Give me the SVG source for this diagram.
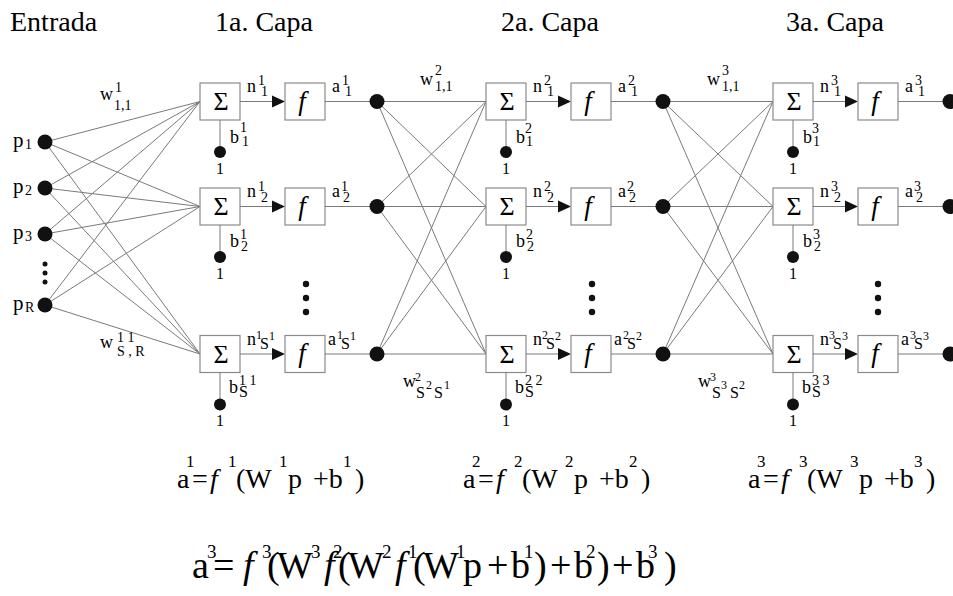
<svg xmlns="http://www.w3.org/2000/svg" width="953" height="596" viewBox="0 0 953 596">
<g id="headers">
<text x="10" y="31" font-family="Liberation Serif" font-size="28">Entrada</text>
<text x="215" y="31" font-family="Liberation Serif" font-size="28">1a. Capa</text>
<text x="501" y="31" font-family="Liberation Serif" font-size="28">2a. Capa</text>
<text x="786" y="31" font-family="Liberation Serif" font-size="28">3a. Capa</text>
</g>

<g id="connectors">
<line x1="45" y1="142" x2="200" y2="101.5" stroke="#7a7a7a" stroke-width="1"/>
<line x1="45" y1="142" x2="200" y2="206.5" stroke="#7a7a7a" stroke-width="1"/>
<line x1="45" y1="142" x2="200" y2="354" stroke="#7a7a7a" stroke-width="1"/>
<line x1="45" y1="188" x2="200" y2="101.5" stroke="#7a7a7a" stroke-width="1"/>
<line x1="45" y1="188" x2="200" y2="206.5" stroke="#7a7a7a" stroke-width="1"/>
<line x1="45" y1="188" x2="200" y2="354" stroke="#7a7a7a" stroke-width="1"/>
<line x1="45" y1="234" x2="200" y2="101.5" stroke="#7a7a7a" stroke-width="1"/>
<line x1="45" y1="234" x2="200" y2="206.5" stroke="#7a7a7a" stroke-width="1"/>
<line x1="45" y1="234" x2="200" y2="354" stroke="#7a7a7a" stroke-width="1"/>
<line x1="45" y1="305" x2="200" y2="101.5" stroke="#7a7a7a" stroke-width="1"/>
<line x1="45" y1="305" x2="200" y2="206.5" stroke="#7a7a7a" stroke-width="1"/>
<line x1="45" y1="305" x2="200" y2="354" stroke="#7a7a7a" stroke-width="1"/>
<line x1="377" y1="101.5" x2="486" y2="101.5" stroke="#7a7a7a" stroke-width="1"/>
<line x1="377" y1="101.5" x2="486" y2="206.5" stroke="#7a7a7a" stroke-width="1"/>
<line x1="377" y1="101.5" x2="486" y2="354" stroke="#7a7a7a" stroke-width="1"/>
<line x1="377" y1="206.5" x2="486" y2="101.5" stroke="#7a7a7a" stroke-width="1"/>
<line x1="377" y1="206.5" x2="486" y2="206.5" stroke="#7a7a7a" stroke-width="1"/>
<line x1="377" y1="206.5" x2="486" y2="354" stroke="#7a7a7a" stroke-width="1"/>
<line x1="377" y1="354" x2="486" y2="101.5" stroke="#7a7a7a" stroke-width="1"/>
<line x1="377" y1="354" x2="486" y2="206.5" stroke="#7a7a7a" stroke-width="1"/>
<line x1="377" y1="354" x2="486" y2="354" stroke="#7a7a7a" stroke-width="1"/>
<line x1="663" y1="101.5" x2="773" y2="101.5" stroke="#7a7a7a" stroke-width="1"/>
<line x1="663" y1="101.5" x2="773" y2="206.5" stroke="#7a7a7a" stroke-width="1"/>
<line x1="663" y1="101.5" x2="773" y2="354" stroke="#7a7a7a" stroke-width="1"/>
<line x1="663" y1="206.5" x2="773" y2="101.5" stroke="#7a7a7a" stroke-width="1"/>
<line x1="663" y1="206.5" x2="773" y2="206.5" stroke="#7a7a7a" stroke-width="1"/>
<line x1="663" y1="206.5" x2="773" y2="354" stroke="#7a7a7a" stroke-width="1"/>
<line x1="663" y1="354" x2="773" y2="101.5" stroke="#7a7a7a" stroke-width="1"/>
<line x1="663" y1="354" x2="773" y2="206.5" stroke="#7a7a7a" stroke-width="1"/>
<line x1="663" y1="354" x2="773" y2="354" stroke="#7a7a7a" stroke-width="1"/>
</g>

<g id="inputs">
<g id="p1"><circle cx="45" cy="142" r="7.5" fill="#111"/><text x="13" y="147" font-family="Liberation Serif" font-size="21">p</text><text x="25" y="149" font-family="Liberation Serif" font-size="14">1</text></g>
<g id="p2"><circle cx="45" cy="188" r="7.5" fill="#111"/><text x="13" y="193" font-family="Liberation Serif" font-size="21">p</text><text x="25" y="195" font-family="Liberation Serif" font-size="14">2</text></g>
<g id="p3"><circle cx="45" cy="234" r="7.5" fill="#111"/><text x="13" y="239" font-family="Liberation Serif" font-size="21">p</text><text x="25" y="241" font-family="Liberation Serif" font-size="14">3</text></g>
<g id="pdots"><circle cx="45" cy="264" r="2.5" fill="#111"/><circle cx="45" cy="273" r="2.5" fill="#111"/><circle cx="45" cy="282" r="2.5" fill="#111"/></g>
<g id="pR"><circle cx="45" cy="305" r="7.5" fill="#111"/><text x="13" y="310" font-family="Liberation Serif" font-size="21">p</text><text x="25" y="312" font-family="Liberation Serif" font-size="14">R</text></g>
</g>

<g id="weight-labels">
<text x="100" y="100" font-family="Liberation Serif" font-size="18">w</text><text x="115" y="92" font-family="Liberation Serif" font-size="14">1</text><text x="114" y="110" font-family="Liberation Serif" font-size="14">1,1</text>
<text x="100" y="348" font-family="Liberation Serif" font-size="18">w</text><text x="117" y="342" font-family="Liberation Serif" font-size="14">1 1</text><text x="117" y="356" font-family="Liberation Serif" font-size="14">S , R</text>
<text x="420" y="85" font-family="Liberation Serif" font-size="18">w</text><text x="435" y="75" font-family="Liberation Serif" font-size="14">2</text><text x="435" y="91" font-family="Liberation Serif" font-size="14">1,1</text>
<text x="403" y="387" font-family="Liberation Serif" font-size="18">w</text><text x="415" y="381" font-family="Liberation Serif" font-size="12">2</text><text x="416" y="398" font-family="Liberation Serif" font-size="16">S</text><text x="426" y="389" font-family="Liberation Serif" font-size="12">2</text><text x="434" y="398" font-family="Liberation Serif" font-size="16">S</text><text x="444" y="389" font-family="Liberation Serif" font-size="12">1</text>
<text x="707" y="85" font-family="Liberation Serif" font-size="18">w</text><text x="722" y="75" font-family="Liberation Serif" font-size="14">3</text><text x="722" y="91" font-family="Liberation Serif" font-size="14">1,1</text>
<text x="698" y="387" font-family="Liberation Serif" font-size="18">w</text><text x="710" y="381" font-family="Liberation Serif" font-size="12">3</text><text x="712" y="398" font-family="Liberation Serif" font-size="16">S</text><text x="721" y="389" font-family="Liberation Serif" font-size="12">3</text><text x="730" y="398" font-family="Liberation Serif" font-size="16">S</text><text x="739" y="389" font-family="Liberation Serif" font-size="12">2</text>
</g>

<!-- Layer 1 -->
<g id="L1N1">
<rect x="200" y="83" width="40" height="37" fill="#fff" stroke="#8a8a8a" stroke-width="1.2"/>
<line x1="240" y1="101.5" x2="273" y2="101.5" stroke="#7a7a7a" stroke-width="1"/>
<polygon points="285,101.5 272,95.5 272,107.5" fill="#111"/>
<rect x="285" y="83" width="40" height="37" fill="#fff" stroke="#8a8a8a" stroke-width="1.2"/>
<line x1="325" y1="101.5" x2="372" y2="101.5" stroke="#7a7a7a" stroke-width="1"/>
<circle cx="377" cy="101.5" r="7.5" fill="#111"/>
<line x1="220" y1="120" x2="220" y2="151.5" stroke="#7a7a7a" stroke-width="1"/>
<circle cx="220" cy="152" r="6" fill="#111"/>
<text x="221" y="110" font-family="Liberation Serif" font-size="26" text-anchor="middle">Σ</text>
<text x="302" y="109.5" font-family="Liberation Serif" font-size="27" font-style="italic" text-anchor="middle">f</text>
<text x="220" y="173.5" font-family="Liberation Serif" font-size="16" text-anchor="middle">1</text>
<text x="247" y="91.5" font-family="Liberation Serif" font-size="18">n</text><text x="258" y="84.5" font-family="Liberation Serif" font-size="14">1</text><text x="261" y="95.5" font-family="Liberation Serif" font-size="14">1</text>
<text x="332" y="91.5" font-family="Liberation Serif" font-size="18">a</text><text x="342" y="84.5" font-family="Liberation Serif" font-size="14">1</text><text x="345" y="95.5" font-family="Liberation Serif" font-size="14">1</text>
<text x="230" y="142.5" font-family="Liberation Serif" font-size="18">b</text><text x="240" y="131.5" font-family="Liberation Serif" font-size="14">1</text><text x="242" y="145.5" font-family="Liberation Serif" font-size="14">1</text>
</g>
<g id="L1N2">
<rect x="200" y="188" width="40" height="37" fill="#fff" stroke="#8a8a8a" stroke-width="1.2"/>
<line x1="240" y1="206.5" x2="273" y2="206.5" stroke="#7a7a7a" stroke-width="1"/>
<polygon points="285,206.5 272,200.5 272,212.5" fill="#111"/>
<rect x="285" y="188" width="40" height="37" fill="#fff" stroke="#8a8a8a" stroke-width="1.2"/>
<line x1="325" y1="206.5" x2="372" y2="206.5" stroke="#7a7a7a" stroke-width="1"/>
<circle cx="377" cy="206.5" r="7.5" fill="#111"/>
<line x1="220" y1="225" x2="220" y2="256.5" stroke="#7a7a7a" stroke-width="1"/>
<circle cx="220" cy="257" r="6" fill="#111"/>
<text x="221" y="215" font-family="Liberation Serif" font-size="26" text-anchor="middle">Σ</text>
<text x="302" y="214.5" font-family="Liberation Serif" font-size="27" font-style="italic" text-anchor="middle">f</text>
<text x="220" y="278.5" font-family="Liberation Serif" font-size="16" text-anchor="middle">1</text>
<text x="247" y="196.5" font-family="Liberation Serif" font-size="18">n</text><text x="258" y="190.5" font-family="Liberation Serif" font-size="14">1</text><text x="261" y="201.5" font-family="Liberation Serif" font-size="14">2</text>
<text x="332" y="196.5" font-family="Liberation Serif" font-size="18">a</text><text x="341" y="190.5" font-family="Liberation Serif" font-size="14">1</text><text x="343" y="201.5" font-family="Liberation Serif" font-size="14">2</text>
<text x="230" y="246.5" font-family="Liberation Serif" font-size="18">b</text><text x="240" y="238.5" font-family="Liberation Serif" font-size="14">1</text><text x="241" y="250.5" font-family="Liberation Serif" font-size="14">2</text>
</g>
<g id="L1dots"><circle cx="306" cy="284" r="3.2" fill="#111"/><circle cx="306" cy="298" r="3.2" fill="#111"/><circle cx="306" cy="312" r="3.2" fill="#111"/></g>
<g id="L1N3">
<rect x="200" y="335.5" width="40" height="37" fill="#fff" stroke="#8a8a8a" stroke-width="1.2"/>
<line x1="240" y1="354" x2="273" y2="354" stroke="#7a7a7a" stroke-width="1"/>
<polygon points="285,354 272,348 272,360" fill="#111"/>
<rect x="285" y="335.5" width="40" height="37" fill="#fff" stroke="#8a8a8a" stroke-width="1.2"/>
<line x1="325" y1="354" x2="372" y2="354" stroke="#7a7a7a" stroke-width="1"/>
<circle cx="377" cy="354" r="7.5" fill="#111"/>
<line x1="220" y1="372.5" x2="220" y2="404" stroke="#7a7a7a" stroke-width="1"/>
<circle cx="220" cy="404.5" r="6" fill="#111"/>
<text x="221" y="362.5" font-family="Liberation Serif" font-size="26" text-anchor="middle">Σ</text>
<text x="302" y="362" font-family="Liberation Serif" font-size="27" font-style="italic" text-anchor="middle">f</text>
<text x="220" y="426" font-family="Liberation Serif" font-size="16" text-anchor="middle">1</text>
<text x="247" y="345" font-family="Liberation Serif" font-size="18">n</text><text x="256" y="339" font-family="Liberation Serif" font-size="12">1</text><text x="260" y="349" font-family="Liberation Serif" font-size="16">S</text><text x="269" y="340" font-family="Liberation Serif" font-size="12">1</text>
<text x="328" y="345" font-family="Liberation Serif" font-size="18">a</text><text x="337" y="339" font-family="Liberation Serif" font-size="12">1</text><text x="341" y="349" font-family="Liberation Serif" font-size="16">S</text><text x="350" y="340" font-family="Liberation Serif" font-size="12">1</text>
<text x="229" y="393" font-family="Liberation Serif" font-size="18">b</text><text x="239" y="385" font-family="Liberation Serif" font-size="14">1 1</text><text x="239" y="397" font-family="Liberation Serif" font-size="16">S</text>
</g>

<!-- Layer 2 -->
<g id="L2N1">
<rect x="486" y="83" width="40" height="37" fill="#fff" stroke="#8a8a8a" stroke-width="1.2"/>
<line x1="526" y1="101.5" x2="559" y2="101.5" stroke="#7a7a7a" stroke-width="1"/>
<polygon points="571,101.5 558,95.5 558,107.5" fill="#111"/>
<rect x="571" y="83" width="40" height="37" fill="#fff" stroke="#8a8a8a" stroke-width="1.2"/>
<line x1="611" y1="101.5" x2="658" y2="101.5" stroke="#7a7a7a" stroke-width="1"/>
<circle cx="663" cy="101.5" r="7.5" fill="#111"/>
<line x1="506" y1="120" x2="506" y2="151.5" stroke="#7a7a7a" stroke-width="1"/>
<circle cx="506" cy="152" r="6" fill="#111"/>
<text x="507" y="110" font-family="Liberation Serif" font-size="26" text-anchor="middle">Σ</text>
<text x="588" y="109.5" font-family="Liberation Serif" font-size="27" font-style="italic" text-anchor="middle">f</text>
<text x="506" y="173.5" font-family="Liberation Serif" font-size="16" text-anchor="middle">1</text>
<text x="533" y="91.5" font-family="Liberation Serif" font-size="18">n</text><text x="544" y="84.5" font-family="Liberation Serif" font-size="14">2</text><text x="547" y="95.5" font-family="Liberation Serif" font-size="14">1</text>
<text x="618" y="91.5" font-family="Liberation Serif" font-size="18">a</text><text x="628" y="84.5" font-family="Liberation Serif" font-size="14">2</text><text x="631" y="95.5" font-family="Liberation Serif" font-size="14">1</text>
<text x="516" y="142.5" font-family="Liberation Serif" font-size="18">b</text><text x="525" y="132.5" font-family="Liberation Serif" font-size="14">2</text><text x="526" y="145.5" font-family="Liberation Serif" font-size="14">1</text>
</g>
<g id="L2N2">
<rect x="486" y="188" width="40" height="37" fill="#fff" stroke="#8a8a8a" stroke-width="1.2"/>
<line x1="526" y1="206.5" x2="559" y2="206.5" stroke="#7a7a7a" stroke-width="1"/>
<polygon points="571,206.5 558,200.5 558,212.5" fill="#111"/>
<rect x="571" y="188" width="40" height="37" fill="#fff" stroke="#8a8a8a" stroke-width="1.2"/>
<line x1="611" y1="206.5" x2="658" y2="206.5" stroke="#7a7a7a" stroke-width="1"/>
<circle cx="663" cy="206.5" r="7.5" fill="#111"/>
<line x1="506" y1="225" x2="506" y2="256.5" stroke="#7a7a7a" stroke-width="1"/>
<circle cx="506" cy="257" r="6" fill="#111"/>
<text x="507" y="215" font-family="Liberation Serif" font-size="26" text-anchor="middle">Σ</text>
<text x="588" y="214.5" font-family="Liberation Serif" font-size="27" font-style="italic" text-anchor="middle">f</text>
<text x="506" y="278.5" font-family="Liberation Serif" font-size="16" text-anchor="middle">1</text>
<text x="533" y="196.5" font-family="Liberation Serif" font-size="18">n</text><text x="544" y="190.5" font-family="Liberation Serif" font-size="14">2</text><text x="547" y="201.5" font-family="Liberation Serif" font-size="14">2</text>
<text x="618" y="196.5" font-family="Liberation Serif" font-size="18">a</text><text x="627" y="190.5" font-family="Liberation Serif" font-size="14">2</text><text x="629" y="201.5" font-family="Liberation Serif" font-size="14">2</text>
<text x="516" y="246.5" font-family="Liberation Serif" font-size="18">b</text><text x="526" y="238.5" font-family="Liberation Serif" font-size="14">2</text><text x="527" y="250.5" font-family="Liberation Serif" font-size="14">2</text>
</g>
<g id="L2dots"><circle cx="592" cy="284" r="3.2" fill="#111"/><circle cx="592" cy="298" r="3.2" fill="#111"/><circle cx="592" cy="312" r="3.2" fill="#111"/></g>
<g id="L2N3">
<rect x="486" y="335.5" width="40" height="37" fill="#fff" stroke="#8a8a8a" stroke-width="1.2"/>
<line x1="526" y1="354" x2="559" y2="354" stroke="#7a7a7a" stroke-width="1"/>
<polygon points="571,354 558,348 558,360" fill="#111"/>
<rect x="571" y="335.5" width="40" height="37" fill="#fff" stroke="#8a8a8a" stroke-width="1.2"/>
<line x1="611" y1="354" x2="658" y2="354" stroke="#7a7a7a" stroke-width="1"/>
<circle cx="663" cy="354" r="7.5" fill="#111"/>
<line x1="506" y1="372.5" x2="506" y2="404" stroke="#7a7a7a" stroke-width="1"/>
<circle cx="506" cy="404.5" r="6" fill="#111"/>
<text x="507" y="362.5" font-family="Liberation Serif" font-size="26" text-anchor="middle">Σ</text>
<text x="588" y="362" font-family="Liberation Serif" font-size="27" font-style="italic" text-anchor="middle">f</text>
<text x="506" y="426" font-family="Liberation Serif" font-size="16" text-anchor="middle">1</text>
<text x="533" y="345" font-family="Liberation Serif" font-size="18">n</text><text x="542" y="339" font-family="Liberation Serif" font-size="12">2</text><text x="546" y="349" font-family="Liberation Serif" font-size="16">S</text><text x="555" y="340" font-family="Liberation Serif" font-size="12">2</text>
<text x="614" y="345" font-family="Liberation Serif" font-size="18">a</text><text x="623" y="339" font-family="Liberation Serif" font-size="12">2</text><text x="627" y="349" font-family="Liberation Serif" font-size="16">S</text><text x="636" y="340" font-family="Liberation Serif" font-size="12">2</text>
<text x="515" y="393" font-family="Liberation Serif" font-size="18">b</text><text x="525" y="385" font-family="Liberation Serif" font-size="14">2 2</text><text x="525" y="397" font-family="Liberation Serif" font-size="16">S</text>
</g>

<!-- Layer 3 -->
<g id="L3N1">
<rect x="773" y="83" width="40" height="37" fill="#fff" stroke="#8a8a8a" stroke-width="1.2"/>
<line x1="813" y1="101.5" x2="846" y2="101.5" stroke="#7a7a7a" stroke-width="1"/>
<polygon points="858,101.5 845,95.5 845,107.5" fill="#111"/>
<rect x="858" y="83" width="40" height="37" fill="#fff" stroke="#8a8a8a" stroke-width="1.2"/>
<line x1="898" y1="101.5" x2="945" y2="101.5" stroke="#7a7a7a" stroke-width="1"/>
<circle cx="950" cy="101.5" r="7.5" fill="#111"/>
<line x1="793" y1="120" x2="793" y2="151.5" stroke="#7a7a7a" stroke-width="1"/>
<circle cx="793" cy="152" r="6" fill="#111"/>
<text x="794" y="110" font-family="Liberation Serif" font-size="26" text-anchor="middle">Σ</text>
<text x="875" y="109.5" font-family="Liberation Serif" font-size="27" font-style="italic" text-anchor="middle">f</text>
<text x="793" y="173.5" font-family="Liberation Serif" font-size="16" text-anchor="middle">1</text>
<text x="820" y="91.5" font-family="Liberation Serif" font-size="18">n</text><text x="831" y="84.5" font-family="Liberation Serif" font-size="14">3</text><text x="834" y="95.5" font-family="Liberation Serif" font-size="14">1</text>
<text x="905" y="91.5" font-family="Liberation Serif" font-size="18">a</text><text x="915" y="84.5" font-family="Liberation Serif" font-size="14">3</text><text x="918" y="95.5" font-family="Liberation Serif" font-size="14">1</text>
<text x="803" y="142.5" font-family="Liberation Serif" font-size="18">b</text><text x="812" y="132.5" font-family="Liberation Serif" font-size="14">3</text><text x="813" y="145.5" font-family="Liberation Serif" font-size="14">1</text>
</g>
<g id="L3N2">
<rect x="773" y="188" width="40" height="37" fill="#fff" stroke="#8a8a8a" stroke-width="1.2"/>
<line x1="813" y1="206.5" x2="846" y2="206.5" stroke="#7a7a7a" stroke-width="1"/>
<polygon points="858,206.5 845,200.5 845,212.5" fill="#111"/>
<rect x="858" y="188" width="40" height="37" fill="#fff" stroke="#8a8a8a" stroke-width="1.2"/>
<line x1="898" y1="206.5" x2="945" y2="206.5" stroke="#7a7a7a" stroke-width="1"/>
<circle cx="950" cy="206.5" r="7.5" fill="#111"/>
<line x1="793" y1="225" x2="793" y2="256.5" stroke="#7a7a7a" stroke-width="1"/>
<circle cx="793" cy="257" r="6" fill="#111"/>
<text x="794" y="215" font-family="Liberation Serif" font-size="26" text-anchor="middle">Σ</text>
<text x="875" y="214.5" font-family="Liberation Serif" font-size="27" font-style="italic" text-anchor="middle">f</text>
<text x="793" y="278.5" font-family="Liberation Serif" font-size="16" text-anchor="middle">1</text>
<text x="820" y="196.5" font-family="Liberation Serif" font-size="18">n</text><text x="831" y="190.5" font-family="Liberation Serif" font-size="14">3</text><text x="834" y="201.5" font-family="Liberation Serif" font-size="14">2</text>
<text x="905" y="196.5" font-family="Liberation Serif" font-size="18">a</text><text x="914" y="190.5" font-family="Liberation Serif" font-size="14">3</text><text x="916" y="201.5" font-family="Liberation Serif" font-size="14">2</text>
<text x="803" y="246.5" font-family="Liberation Serif" font-size="18">b</text><text x="813" y="238.5" font-family="Liberation Serif" font-size="14">3</text><text x="814" y="250.5" font-family="Liberation Serif" font-size="14">2</text>
</g>
<g id="L3dots"><circle cx="878" cy="284" r="3.2" fill="#111"/><circle cx="878" cy="298" r="3.2" fill="#111"/><circle cx="878" cy="312" r="3.2" fill="#111"/></g>
<g id="L3N3">
<rect x="773" y="335.5" width="40" height="37" fill="#fff" stroke="#8a8a8a" stroke-width="1.2"/>
<line x1="813" y1="354" x2="846" y2="354" stroke="#7a7a7a" stroke-width="1"/>
<polygon points="858,354 845,348 845,360" fill="#111"/>
<rect x="858" y="335.5" width="40" height="37" fill="#fff" stroke="#8a8a8a" stroke-width="1.2"/>
<line x1="898" y1="354" x2="945" y2="354" stroke="#7a7a7a" stroke-width="1"/>
<circle cx="950" cy="354" r="7.5" fill="#111"/>
<line x1="793" y1="372.5" x2="793" y2="404" stroke="#7a7a7a" stroke-width="1"/>
<circle cx="793" cy="404.5" r="6" fill="#111"/>
<text x="794" y="362.5" font-family="Liberation Serif" font-size="26" text-anchor="middle">Σ</text>
<text x="875" y="362" font-family="Liberation Serif" font-size="27" font-style="italic" text-anchor="middle">f</text>
<text x="793" y="426" font-family="Liberation Serif" font-size="16" text-anchor="middle">1</text>
<text x="820" y="345" font-family="Liberation Serif" font-size="18">n</text><text x="829" y="339" font-family="Liberation Serif" font-size="12">3</text><text x="833" y="349" font-family="Liberation Serif" font-size="16">S</text><text x="842" y="340" font-family="Liberation Serif" font-size="12">3</text>
<text x="901" y="345" font-family="Liberation Serif" font-size="18">a</text><text x="910" y="339" font-family="Liberation Serif" font-size="12">3</text><text x="914" y="349" font-family="Liberation Serif" font-size="16">S</text><text x="923" y="340" font-family="Liberation Serif" font-size="12">3</text>
<text x="802" y="393" font-family="Liberation Serif" font-size="18">b</text><text x="812" y="385" font-family="Liberation Serif" font-size="14">3 3</text><text x="812" y="397" font-family="Liberation Serif" font-size="16">S</text>
</g>

<g id="equation1">
<text x="177" y="488" font-family="Liberation Serif" font-size="28">a</text>
<text x="186" y="467" font-family="Liberation Serif" font-size="17">1</text>
<text x="192" y="488" font-family="Liberation Serif" font-size="28">=</text>
<text x="210" y="488" font-family="Liberation Serif" font-size="28" font-style="italic">f</text>
<text x="228" y="467" font-family="Liberation Serif" font-size="17">1</text>
<text x="236" y="488" font-family="Liberation Serif" font-size="28">(W</text>
<text x="279" y="467" font-family="Liberation Serif" font-size="17">1</text>
<text x="288" y="488" font-family="Liberation Serif" font-size="28">p</text>
<text x="313" y="488" font-family="Liberation Serif" font-size="28">+b</text>
<text x="343" y="467" font-family="Liberation Serif" font-size="17">1</text>
<text x="355" y="488" font-family="Liberation Serif" font-size="28">)</text>
</g>
<g id="equation2">
<text x="463" y="488" font-family="Liberation Serif" font-size="28">a</text>
<text x="472" y="467" font-family="Liberation Serif" font-size="17">2</text>
<text x="478" y="488" font-family="Liberation Serif" font-size="28">=</text>
<text x="496" y="488" font-family="Liberation Serif" font-size="28" font-style="italic">f</text>
<text x="514" y="467" font-family="Liberation Serif" font-size="17">2</text>
<text x="522" y="488" font-family="Liberation Serif" font-size="28">(W</text>
<text x="565" y="467" font-family="Liberation Serif" font-size="17">2</text>
<text x="574" y="488" font-family="Liberation Serif" font-size="28">p</text>
<text x="599" y="488" font-family="Liberation Serif" font-size="28">+b</text>
<text x="629" y="467" font-family="Liberation Serif" font-size="17">2</text>
<text x="641" y="488" font-family="Liberation Serif" font-size="28">)</text>
</g>
<g id="equation3">
<text x="748" y="488" font-family="Liberation Serif" font-size="28">a</text>
<text x="757" y="467" font-family="Liberation Serif" font-size="17">3</text>
<text x="763" y="488" font-family="Liberation Serif" font-size="28">=</text>
<text x="781" y="488" font-family="Liberation Serif" font-size="28" font-style="italic">f</text>
<text x="799" y="467" font-family="Liberation Serif" font-size="17">3</text>
<text x="807" y="488" font-family="Liberation Serif" font-size="28">(W</text>
<text x="850" y="467" font-family="Liberation Serif" font-size="17">3</text>
<text x="859" y="488" font-family="Liberation Serif" font-size="28">p</text>
<text x="884" y="488" font-family="Liberation Serif" font-size="28">+b</text>
<text x="914" y="467" font-family="Liberation Serif" font-size="17">3</text>
<text x="926" y="488" font-family="Liberation Serif" font-size="28">)</text>
</g>
<g id="equation-total">
<text x="192" y="578" font-family="Liberation Serif" font-size="38">a</text>
<text x="207" y="558" font-family="Liberation Serif" font-size="19">3</text>
<text x="213" y="578" font-family="Liberation Serif" font-size="38">=</text>
<text x="243" y="578" font-family="Liberation Serif" font-size="38" font-style="italic">f</text>
<text x="262" y="558" font-family="Liberation Serif" font-size="19">3</text>
<text x="267" y="578" font-family="Liberation Serif" font-size="38">(</text>
<text x="277" y="578" font-family="Liberation Serif" font-size="38">W</text>
<text x="311" y="558" font-family="Liberation Serif" font-size="19">3</text>
<text x="324" y="578" font-family="Liberation Serif" font-size="38" font-style="italic">f</text>
<text x="333" y="558" font-family="Liberation Serif" font-size="19">2</text>
<text x="338" y="578" font-family="Liberation Serif" font-size="38">(</text>
<text x="348" y="578" font-family="Liberation Serif" font-size="38">W</text>
<text x="382" y="558" font-family="Liberation Serif" font-size="19">2</text>
<text x="395" y="578" font-family="Liberation Serif" font-size="38" font-style="italic">f</text>
<text x="408" y="558" font-family="Liberation Serif" font-size="19">1</text>
<text x="413" y="578" font-family="Liberation Serif" font-size="38">(</text>
<text x="423" y="578" font-family="Liberation Serif" font-size="38">W</text>
<text x="456" y="558" font-family="Liberation Serif" font-size="19">1</text>
<text x="463" y="578" font-family="Liberation Serif" font-size="38">p</text>
<text x="487" y="578" font-family="Liberation Serif" font-size="38">+</text>
<text x="511" y="578" font-family="Liberation Serif" font-size="38">b</text>
<text x="524" y="558" font-family="Liberation Serif" font-size="19">1</text>
<text x="534" y="578" font-family="Liberation Serif" font-size="38">)</text>
<text x="550" y="578" font-family="Liberation Serif" font-size="38">+</text>
<text x="574" y="578" font-family="Liberation Serif" font-size="38">b</text>
<text x="586" y="558" font-family="Liberation Serif" font-size="19">2</text>
<text x="597" y="578" font-family="Liberation Serif" font-size="38">)</text>
<text x="612" y="578" font-family="Liberation Serif" font-size="38">+</text>
<text x="636" y="578" font-family="Liberation Serif" font-size="38">b</text>
<text x="648" y="558" font-family="Liberation Serif" font-size="19">3</text>
<text x="664" y="578" font-family="Liberation Serif" font-size="38">)</text>
</g>
</svg>
